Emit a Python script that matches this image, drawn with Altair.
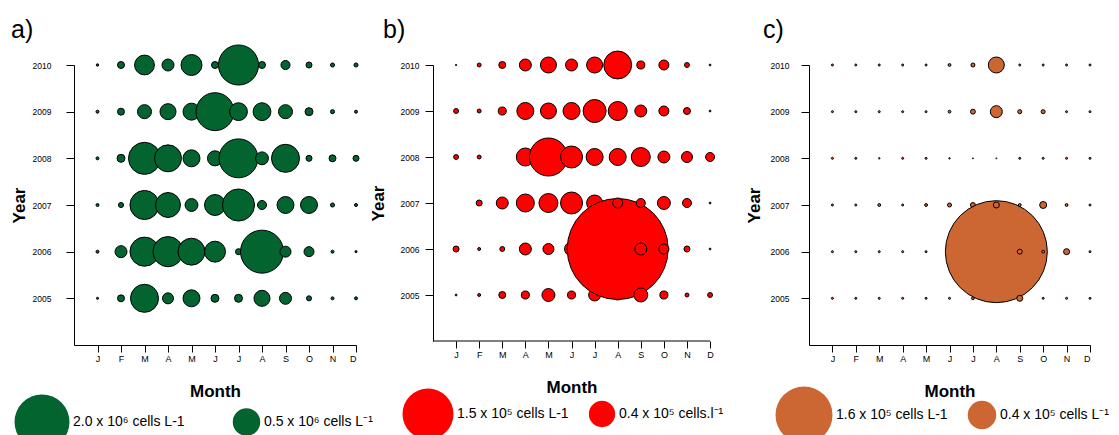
import altair as alt
import pandas as pd

FONT = "Liberation Sans"

years = [2005, 2006, 2007, 2008, 2009, 2010]
months = ["J", "F", "M", "A", "M", "J", "J", "A", "S", "O", "N", "D"]

# Panel a: cell density, x 10^6 cells L-1 (rows J..D)
a_2010 = [0.004, 0.032, 0.26, 0.095, 0.29, 0.032, 1.06, 0.032, 0.054, 0.024, 0.011, 0.011]
a_2009 = [0.006, 0.032, 0.13, 0.17, 0.19, 0.95, 0.21, 0.21, 0.13, 0.042, 0.011, 0.006]
a_2008 = [0.006, 0.042, 0.68, 0.48, 0.19, 0.15, 1.0, 0.11, 0.52, 0.024, 0.032, 0.024]
a_2007 = [0.006, 0.017, 0.56, 0.41, 0.11, 0.29, 0.68, 0.054, 0.19, 0.19, 0.011, 0.006]
a_2006 = [0.006, 0.095, 0.56, 0.6, 0.48, 0.29, 0.024, 1.22, 0.08, 0.066, 0.006, 0.003]
a_2005 = [0.003, 0.032, 0.52, 0.08, 0.19, 0.042, 0.042, 0.17, 0.095, 0.017, 0.006, 0.006]

# Panel b: x 10^5 cells L-1
b_2010 = [0.001, 0.009, 0.028, 0.083, 0.148, 0.083, 0.148, 0.45, 0.037, 0.058, 0.014, 0.002]
b_2009 = [0.014, 0.009, 0.037, 0.167, 0.148, 0.167, 0.305, 0.208, 0.083, 0.058, 0.028, 0.002]
b_2008 = [0.014, 0.009, 0.0, 0.187, 0.833, 0.279, 0.167, 0.167, 0.208, 0.083, 0.07, 0.047]
b_2007 = [0.0, 0.021, 0.083, 0.187, 0.208, 0.279, 0.148, 0.058, 0.047, 0.097, 0.047, 0.002]
b_2006 = [0.021, 0.005, 0.014, 0.083, 0.07, 0.113, 0.113, 5.88, 0.083, 0.058, 0.021, 0.002]
b_2005 = [0.002, 0.005, 0.028, 0.037, 0.097, 0.037, 0.083, 0.058, 0.113, 0.037, 0.009, 0.014]

# Panel c: x 10^5 cells L-1
c_2010 = [0.002, 0.002, 0.002, 0.002, 0.002, 0.004, 0.008, 0.126, 0.002, 0.002, 0.002, 0.002]
c_2009 = [0.002, 0.002, 0.002, 0.002, 0.002, 0.004, 0.012, 0.071, 0.008, 0.008, 0.002, 0.002]
c_2008 = [0.002, 0.002, 0.001, 0.002, 0.002, 0.001, 0.0005, 0.0005, 0.002, 0.002, 0.002, 0.002]
c_2007 = [0.002, 0.002, 0.004, 0.002, 0.004, 0.008, 0.012, 0.018, 0.004, 0.024, 0.004, 0.002]
c_2006 = [0.002, 0.002, 0.002, 0.002, 0.002, 0.002, 0.004, 5.12, 0.012, 0.004, 0.018, 0.002]
c_2005 = [0.002, 0.002, 0.002, 0.002, 0.002, 0.002, 0.004, 0.004, 0.018, 0.002, 0.002, 0.002]

legend_a_values = [2.0, 0.5]
legend_a_labels = ["2.0 x 10\u2076 cells L-1", "0.5 x 10\u2076 cells L\u207b\u00b9"]
legend_b_values = [1.5, 0.4]
legend_b_labels = ["1.5 x 10\u2075 cells L-1", "0.4 x 10\u2075 cells.l\u207b\u00b9"]
legend_c_values = [1.6, 0.4]
legend_c_labels = ["1.6 x 10\u2075 cells L-1", "0.4 x 10\u2075 cells L\u207b\u00b9"]

month_expr = "[" + ",".join("'%s'" % m for m in months) + "][datum.value - 1]"


def long_table(rows):
    recs = []
    for mi in range(12):
        for y in years:
            recs.append({"month": mi + 1, "year": y, "value": rows[y][mi]})
    return pd.DataFrame(recs)


def panel(rows, color, size_dom, size_rng, leg_vals, leg_labels, leg_x, leg_y,
          clip_h, col_pad, width, height, xmax, label_pad, title_pad,
          letter, letter_dx, letter_offset, rule_axis, month_center):
    df = long_table(rows)
    lab_expr = "datum.value == %s ? '%s' : '%s'" % (leg_vals[0], leg_labels[0], leg_labels[1])
    x = alt.X(
        "month:Q",
        scale=alt.Scale(domain=[0, xmax], nice=False, zero=False),
        axis=alt.Axis(values=list(range(1, 13)), labelExpr=month_expr, title="Month",
                      domain=not rule_axis, tickSize=7, labelPadding=2, labelFontSize=9,
                      labelOverlap=False, labelFont=FONT, titleFont=FONT, titleFontSize=17,
                      titleFontWeight="bold", titlePadding=20, titleX=month_center,
                      labelColor="black", tickColor="black", domainColor="black",
                      titleColor="black"),
    )
    y = alt.Y(
        "year:Q",
        scale=alt.Scale(domain=[2004, 2010], nice=False, zero=False),
        axis=alt.Axis(values=years, format="d", title="Year", tickSize=8,
                      labelPadding=label_pad, labelFontSize=8.5, labelFont=FONT,
                      titleFont=FONT, titleFontSize=17, titleFontWeight="bold",
                      titlePadding=title_pad, labelColor="black", tickColor="black",
                      domainColor="black", titleColor="black"),
    )
    size = alt.Size(
        "value:Q",
        scale=alt.Scale(type="linear", domain=[0, size_dom], range=[0, size_rng],
                        zero=True, clamp=False),
        legend=alt.Legend(orient="none", legendX=leg_x, legendY=leg_y, direction="horizontal",
                          values=leg_vals, labelExpr=lab_expr, title=None,
                          symbolType="circle", symbolFillColor=color,
                          symbolStrokeColor="black", symbolStrokeWidth=1, symbolOpacity=1,
                          labelFont=FONT, labelFontSize=14, labelColor="black",
                          labelOffset=3, columnPadding=col_pad, padding=0,
                          clipHeight=clip_h),
    )
    pts = alt.Chart(df).transform_filter("datum.value > 0").mark_circle(
        fill=color, stroke="black", strokeWidth=1, opacity=1, clip=False
    ).encode(x=x, y=y, size=size)
    title = alt.TitleParams(letter, anchor="start", frame="group", dx=letter_dx,
                            offset=letter_offset, fontSize=25, fontWeight="normal",
                            font=FONT, color="black")
    if rule_axis:
        ax = alt.Chart(df).transform_filter(
            "datum.month == 1 && datum.year == 2005"
        ).mark_rule(color="black", strokeWidth=1).encode(
            x=alt.XDatum(0, axis=None), x2=alt.datum(12), y=alt.YDatum(2004, axis=None)
        )
        ch = alt.layer(pts, ax).resolve_axis(x="independent", y="independent")
    else:
        ch = alt.layer(pts)
    return ch.properties(width=width, height=height, title=title)


rows_a = {2010: a_2010, 2009: a_2009, 2008: a_2008, 2007: a_2007, 2006: a_2006, 2005: a_2005}
rows_b = {2010: b_2010, 2009: b_2009, 2008: b_2008, 2007: b_2007, 2006: b_2006, 2005: b_2005}
rows_c = {2010: c_2010, 2009: c_2009, 2008: c_2008, 2007: c_2007, 2006: c_2006, 2005: c_2005}

pa = panel(rows_a, "#03642F", 2.0, 3025, legend_a_values, legend_a_labels, -60, 328, 58, 47,
           282, 280, 12, 15, 4, "a)", -63, 0, False, 141)
pb = panel(rows_b, "#FF0000", 1.5, 2601, legend_b_values, legend_b_labels, -31, 322, 54, 19,
           299, 276, 12.95, 6, 13, "b)", -50, 6, True, 138.5)
pc = panel(rows_c, "#CC6633", 1.6, 3249, legend_c_values, legend_c_labels, -34, 320, 60, 19,
           281, 280, 12, 12, 7, "c)", -46, 12, False, 140.5)

chart = alt.hconcat(pa, pb, pc, spacing=77, bounds="flush").resolve_scale(
    size="independent", x="independent", y="independent"
).resolve_legend(size="independent").properties(
    padding={"left": 2, "top": 9, "right": 0, "bottom": 0}
).configure_view(stroke=None).configure_axis(grid=False)

chart.save("out.html", embed_options={"renderer": "svg", "actions": False})
